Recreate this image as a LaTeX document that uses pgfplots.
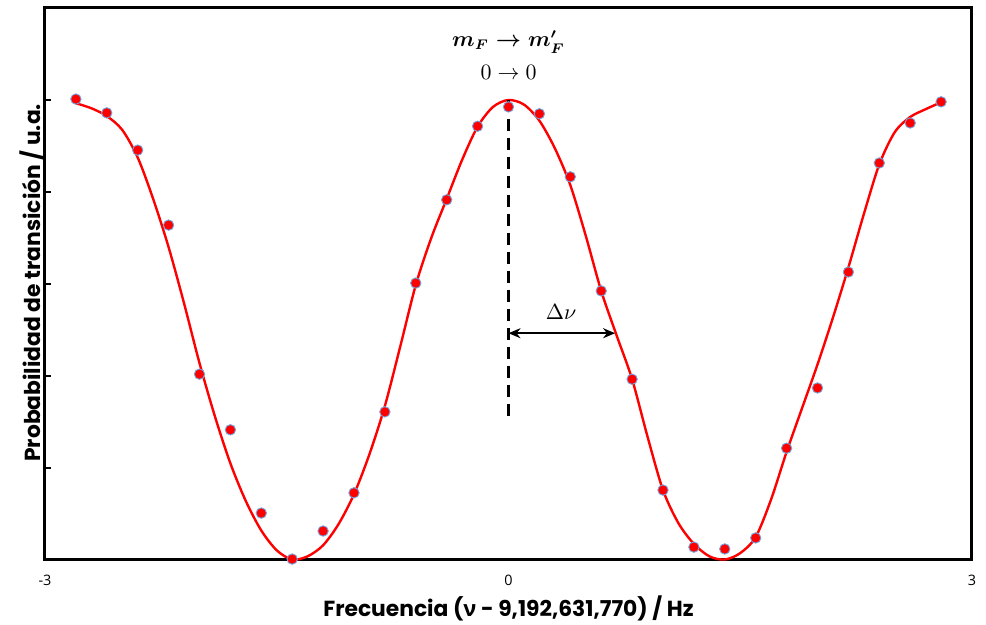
\documentclass[border=0pt]{standalone}
\usepackage{amsmath}
\usepackage{pgfplots}
\pgfplotsset{compat=1.18}
\usepackage{pgfplotstable}
\usepackage{fontspec}
\setmainfont{Poppins}
\newfontfamily\tickfont{Open Sans}
\newfontfamily\greek{Open Sans}
\usetikzlibrary{arrows.meta}

\definecolor{borde}{RGB}{115,165,225}

% puntos medidos
\pgfplotstableread{
x y
-2.8 1.002
-2.6 0.972
-2.4 0.891
-2.2 0.728
-2.0 0.404
-1.8 0.283
-1.6 0.102
-1.4 0.002
-1.2 0.063
-1.0 0.146
-0.8 0.322
-0.6 0.602
-0.4 0.783
-0.2 0.943
0.0 0.985
0.2 0.970
0.4 0.833
0.6 0.585
0.8 0.393
1.0 0.152
1.2 0.028
1.4 0.024
1.6 0.048
1.8 0.243
2.0 0.374
2.2 0.626
2.4 0.863
2.6 0.950
2.8 0.996
}\puntos

% curva ajustada
\pgfplotstableread{
x y
-2.8 0.993
-2.7 0.982
-2.6 0.965
-2.5 0.935
-2.4 0.875
-2.3 0.785
-2.2 0.680
-2.1 0.558
-2.0 0.428
-1.9 0.312
-1.8 0.210
-1.7 0.128
-1.6 0.064
-1.5 0.021
-1.4 0.001
-1.3 0.008
-1.2 0.032
-1.1 0.078
-1.0 0.143
-0.9 0.230
-0.8 0.335
-0.7 0.465
-0.6 0.598
-0.5 0.700
-0.4 0.785
-0.3 0.870
-0.2 0.942
-0.1 0.985
0.0 1.000
0.1 0.990
0.2 0.955
0.3 0.895
0.4 0.815
0.5 0.705
0.6 0.585
0.7 0.488
0.8 0.393
0.9 0.268
1.0 0.152
1.1 0.080
1.2 0.035
1.3 0.008
1.4 0.001
1.5 0.015
1.6 0.050
1.7 0.132
1.8 0.235
1.9 0.330
2.0 0.425
2.1 0.527
2.2 0.636
2.3 0.752
2.4 0.860
2.5 0.930
2.6 0.963
2.7 0.980
2.8 0.995
}\ajuste

\begin{document}
\begin{tikzpicture}
\begin{axis}[
    scale only axis,
    width=463.5pt, height=276pt,
    xmin=-3, xmax=3, ymin=0, ymax=1.2,
    axis line style={line width=1.5pt},
    xtick={-3,0,3},
    xticklabels={-3,0,3},
    xtick style={draw=none},
    xticklabel style={font=\tickfont\fontsize{7.2}{8}\selectfont, yshift=-4pt},
    ytick={0.2,0.4,0.6,0.8,1.0},
    yticklabels={},
    ytick pos=left,
    tick align=inside,
    major tick length=3pt,
    ytick style={line width=1pt, black},
    xlabel={Frecuencia ({\greek ν} - 9,192,631,770) / Hz},
    ylabel={Probabilidad de transición / u.a.},
    label style={font=\bfseries\fontsize{10.9}{12}\selectfont},
    xlabel style={at={(rel axis cs:0.5,0)}, anchor=center, yshift=-24pt},
    ylabel style={at={(rel axis cs:-0.014,0.502)}, anchor=center, rotate=0},
    clip=false,
]
\addplot[red, line width=1.2pt, smooth] table {\ajuste};
\addplot[only marks, mark=*, mark size=2.6pt,
    mark options={fill=red, draw=borde, line width=0.45pt}] table {\puntos};
\addplot[black, line width=1.3pt, dash pattern=on 6pt off 3.5pt] coordinates {(0,1.0) (0,0.31)};
\draw[{Stealth[length=6pt,width=5pt]}-{Stealth[length=6pt,width=5pt]}, line width=1pt]
    (axis cs:0,0.493) -- (axis cs:0.69,0.493);
\node at (axis cs:0.34,0.54) {\fontsize{10.5}{12}\selectfont$\Delta\nu$};
\node at (axis cs:0,1.126) {\fontsize{10.5}{12}\selectfont$\boldsymbol{m_F\rightarrow m'_F}$};
\node at (axis cs:0,1.059) {\fontsize{10.5}{12}\selectfont$0\rightarrow 0$};
\end{axis}
\pgfresetboundingbox
\path[use as bounding box] (-22.5pt,-32.5pt) rectangle (470.5pt,280pt);
\end{tikzpicture}
\end{document}
